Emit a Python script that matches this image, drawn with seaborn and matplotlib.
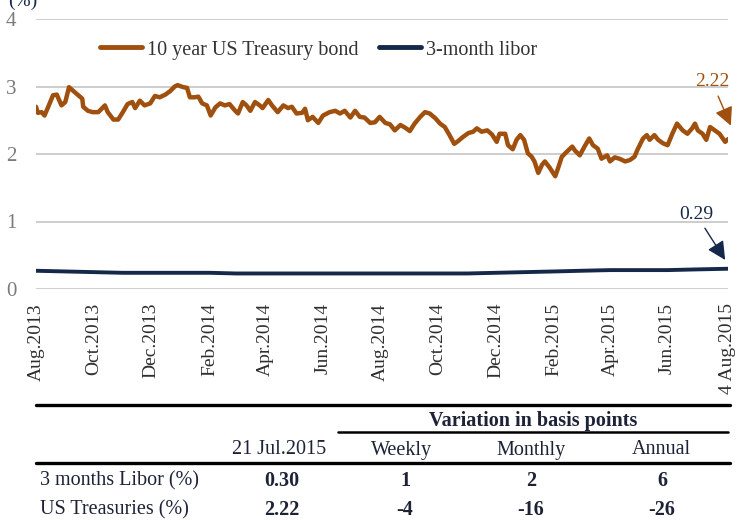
import pandas as pd
import matplotlib.pyplot as plt
import seaborn as sns
from matplotlib.lines import Line2D

# 10 year US Treasury yield (%)
tsy_dates = [
    '2013-08-01', '2013-08-03', '2013-08-07', '2013-08-10', '2013-08-14', '2013-08-19',
    '2013-08-23', '2013-08-28', '2013-09-01', '2013-09-05', '2013-09-09', '2013-09-14',
    '2013-09-19', '2013-09-20', '2013-09-25', '2013-09-30', '2013-10-06', '2013-10-13',
    '2013-10-16', '2013-10-22', '2013-10-27', '2013-11-01', '2013-11-06', '2013-11-11',
    '2013-11-14', '2013-11-19', '2013-11-24', '2013-11-30', '2013-12-05', '2013-12-10',
    '2013-12-16', '2013-12-21', '2013-12-26', '2013-12-29', '2014-01-04', '2014-01-08',
    '2014-01-11', '2014-01-16', '2014-01-20', '2014-01-24', '2014-01-29', '2014-02-02',
    '2014-02-07', '2014-02-12', '2014-02-17', '2014-02-22', '2014-02-28', '2014-03-03',
    '2014-03-08', '2014-03-12', '2014-03-16', '2014-03-21', '2014-03-26', '2014-03-29',
    '2014-04-04', '2014-04-08', '2014-04-14', '2014-04-20', '2014-04-25', '2014-04-29',
    '2014-05-04', '2014-05-10', '2014-05-13', '2014-05-16', '2014-05-21', '2014-05-27',
    '2014-06-01', '2014-06-08', '2014-06-14', '2014-06-19', '2014-06-24', '2014-06-30',
    '2014-07-05', '2014-07-10', '2014-07-15', '2014-07-21', '2014-07-26', '2014-07-31',
    '2014-08-06', '2014-08-11', '2014-08-16', '2014-08-22', '2014-08-27', '2014-09-01',
    '2014-09-06', '2014-09-12', '2014-09-17', '2014-09-22', '2014-09-28', '2014-10-03',
    '2014-10-08', '2014-10-13', '2014-10-18', '2014-10-22', '2014-10-27', '2014-11-02',
    '2014-11-07', '2014-11-11', '2014-11-16', '2014-11-22', '2014-11-27', '2014-12-02',
    '2014-12-05', '2014-12-11', '2014-12-14', '2014-12-19', '2014-12-23', '2014-12-27',
    '2014-12-31', '2015-01-04', '2015-01-08', '2015-01-11', '2015-01-15', '2015-01-19',
    '2015-01-22', '2015-01-27', '2015-02-02', '2015-02-05', '2015-02-09', '2015-02-14',
    '2015-02-20', '2015-02-23', '2015-02-28', '2015-03-05', '2015-03-10', '2015-03-14',
    '2015-03-19', '2015-03-23', '2015-03-29', '2015-04-01', '2015-04-06', '2015-04-11',
    '2015-04-17', '2015-04-22', '2015-04-27', '2015-04-30', '2015-05-06', '2015-05-10',
    '2015-05-13', '2015-05-18', '2015-05-22', '2015-05-27', '2015-06-01', '2015-06-06',
    '2015-06-11', '2015-06-14', '2015-06-17', '2015-06-22', '2015-06-27', '2015-06-30',
    '2015-07-03', '2015-07-08', '2015-07-12', '2015-07-16', '2015-07-21', '2015-07-26',
    '2015-08-01', '2015-08-04',
]
tsy_values = [
    2.70, 2.61, 2.62, 2.57, 2.70, 2.87, 2.88, 2.72, 2.77, 2.99, 2.94, 2.88,
    2.82, 2.70, 2.64, 2.62, 2.62, 2.72, 2.62, 2.51, 2.51, 2.62, 2.74, 2.77,
    2.68, 2.79, 2.72, 2.75, 2.86, 2.84, 2.88, 2.93, 3.00, 3.02, 2.99, 2.98,
    2.84, 2.84, 2.85, 2.75, 2.72, 2.57, 2.69, 2.75, 2.72, 2.74, 2.64, 2.60,
    2.77, 2.72, 2.64, 2.77, 2.72, 2.68, 2.80, 2.72, 2.62, 2.72, 2.68, 2.70,
    2.60, 2.61, 2.67, 2.50, 2.55, 2.46, 2.57, 2.62, 2.64, 2.60, 2.64, 2.54,
    2.64, 2.55, 2.54, 2.46, 2.47, 2.55, 2.46, 2.44, 2.35, 2.43, 2.39, 2.34,
    2.45, 2.55, 2.62, 2.60, 2.53, 2.45, 2.40, 2.28, 2.15, 2.19, 2.25, 2.31,
    2.33, 2.38, 2.33, 2.35, 2.29, 2.18, 2.30, 2.30, 2.13, 2.07, 2.21, 2.28,
    2.21, 2.01, 1.96, 1.89, 1.72, 1.84, 1.89, 1.80, 1.67, 1.79, 1.96, 2.03,
    2.11, 2.05, 1.98, 2.11, 2.23, 2.13, 2.08, 1.93, 1.98, 1.89, 1.95, 1.93,
    1.89, 1.91, 1.96, 2.06, 2.23, 2.28, 2.21, 2.28, 2.21, 2.16, 2.13, 2.30,
    2.45, 2.40, 2.35, 2.30, 2.38, 2.45, 2.35, 2.30, 2.21, 2.40, 2.35, 2.30,
    2.18, 2.22,
]

# 3-month libor (%), monthly
libor_dates = [
    '2013-08-01', '2013-09-01', '2013-10-01', '2013-11-01', '2013-12-01', '2014-01-01',
    '2014-02-01', '2014-03-01', '2014-04-01', '2014-05-01', '2014-06-01', '2014-07-01',
    '2014-08-01', '2014-09-01', '2014-10-01', '2014-11-01', '2014-12-01', '2015-01-01',
    '2015-02-01', '2015-03-01', '2015-04-01', '2015-05-01', '2015-06-01', '2015-07-01',
    '2015-08-04',
]
libor_values = [
    0.27, 0.26, 0.25, 0.24, 0.24, 0.24, 0.24, 0.23, 0.23, 0.23, 0.23, 0.23,
    0.23, 0.23, 0.23, 0.23, 0.24, 0.25, 0.26, 0.27, 0.28, 0.28, 0.28, 0.29,
    0.30,
]

tick_dates = ['2013-08-01', '2013-10-01', '2013-12-01', '2014-02-01', '2014-04-01',
              '2014-06-01', '2014-08-01', '2014-10-01', '2014-12-01', '2015-02-01',
              '2015-04-01', '2015-06-01', '2015-08-04']
tick_labels = ['Aug.2013', 'Oct.2013', 'Dec.2013', 'Feb.2014', 'Apr.2014', 'Jun.2014',
               'Aug.2014', 'Oct.2014', 'Dec.2014', 'Feb.2015', 'Apr.2015', 'Jun.2015',
               '4 Aug.2015']

# table under the chart
table_cols = ['21 Jul.2015', 'Weekly', 'Monthly', 'Annual']
table_rows = ['3 months Libor (%)', 'US Treasuries (%)']
libor_row = ['0.30', '1', '2', '6']
tsy_row = ['2.22', '-4', '-16', '-26']

ORANGE = '#A0500E'
NAVY = '#16284A'
TEXT = '#1d2236'

sns.set_style('white')
plt.rcParams['font.family'] = ['Liberation Serif', 'DejaVu Serif']

W, H = 741, 520
fig = plt.figure(figsize=(W / 100, H / 100), dpi=100)
ax = fig.add_axes([36 / W, 1 - 289 / H, (728 - 36) / W, 270 / H])

tsy = pd.DataFrame({'date': pd.to_datetime(tsy_dates), 'value': tsy_values})
libor = pd.DataFrame({'date': pd.to_datetime(libor_dates), 'value': libor_values})

sns.lineplot(data=tsy, x='date', y='value', color=ORANGE, lw=3.2,
             label='10 year US Treasury bond', ax=ax)
sns.lineplot(data=libor, x='date', y='value', color=NAVY, lw=2.8,
             label='3-month libor', ax=ax)

ax.set_xlim(pd.Timestamp('2013-08-01'), pd.Timestamp('2015-08-04'))
ax.set_ylim(0, 4)
ax.set_yticks([0, 1, 2, 3, 4])
ax.yaxis.grid(True, color='#c9c9c9', lw=1.3)
ax.set_axisbelow(True)
for s in ax.spines.values():
    s.set_visible(False)
ax.set_xlabel('')
ax.set_ylabel('')
ax.set_xticks(pd.to_datetime(tick_dates))
ax.set_xticklabels(tick_labels, rotation=90, ha='center', va='top')
ax.tick_params(axis='x', length=0, pad=10, labelsize=14, labelcolor='#2e2e2e')
ax.tick_params(axis='y', length=0, pad=14, labelsize=15, labelcolor='#7a7a7a')

leg = ax.legend(loc='center left', bbox_to_anchor=(100 / W, 1 - 50 / H),
                bbox_transform=fig.transFigure, ncol=2, frameon=False,
                fontsize=14.5, handlelength=2.1, handletextpad=0.25,
                columnspacing=1.0, borderpad=0, borderaxespad=0)
for t in leg.get_texts():
    t.set_color('#333333')
for h in leg.legend_handles:
    h.set_linewidth(3.5)

ax.annotate('2.22', xy=(pd.Timestamp('2015-08-07'), 2.42),
            xytext=(pd.Timestamp('2015-07-18'), 3.07), ha='center', va='center',
            fontsize=14, color=ORANGE, annotation_clip=False,
            arrowprops=dict(arrowstyle='-|>,head_length=0.8,head_width=0.4',
                            color=ORANGE, lw=1.0, shrinkA=2, shrinkB=0))
ax.annotate('0.29', xy=(pd.Timestamp('2015-08-01'), 0.43),
            xytext=(pd.Timestamp('2015-07-01'), 1.11), ha='center', va='center',
            fontsize=14, color=NAVY, annotation_clip=False,
            arrowprops=dict(arrowstyle='-|>,head_length=0.8,head_width=0.4',
                            color=NAVY, lw=1.0, shrinkA=2, shrinkB=0))

# unit label, partly cut off at the top edge as in the original
fig.text(8 / W, 1 - 1 / H, '(%)', fontsize=14, color=NAVY, va='center', ha='left')


def fy(y):
    return 1 - y / H


def hline(x0, x1, y, lw):
    fig.add_artist(Line2D([x0 / W, x1 / W], [fy(y), fy(y)], color='black', lw=lw,
                          transform=fig.transFigure))


hline(36, 730, 405, 2.4)
fig.text(533 / W, fy(421), 'Variation in basis points', fontsize=14.5, weight='bold',
         color=TEXT, ha='center', va='center')
hline(338, 728, 432, 1.8)

col_x = [279, 402, 531, 661]
val_x = [282, 405, 531, 662]
for x, c in zip(col_x, table_cols):
    fig.text(x / W, fy(450), c, fontsize=14.5, color=TEXT, ha='center', va='center')
hline(36, 730, 463, 2.4)

for y, name, row in zip([481, 510], table_rows, [libor_row, tsy_row]):
    fig.text(40 / W, fy(y), name, fontsize=14.5, color=TEXT, ha='left', va='center')
    for x, v in zip(val_x, row):
        fig.text(x / W, fy(y), v, fontsize=14.5, weight='bold', color=TEXT,
                 ha='center', va='center')

fig.savefig('out.png', dpi=100, facecolor='white')
